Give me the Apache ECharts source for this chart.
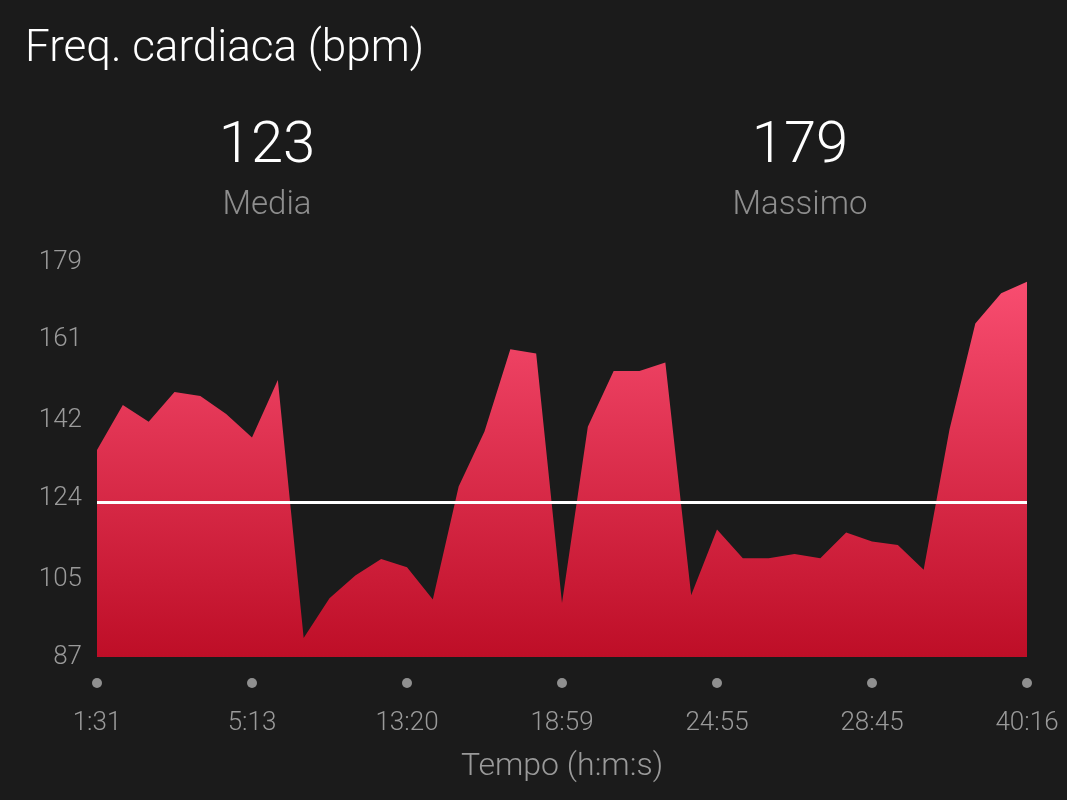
<!DOCTYPE html>
<html>
<head>
<meta charset="utf-8">
<script src="https://cdn.jsdelivr.net/npm/echarts@6/dist/echarts.min.js"></script>
<style>
  html, body { margin: 0; padding: 0; background: #1b1b1b; }
  #chart { width: 1067px; height: 800px; }
</style>
</head>
<body>
<div id="chart"></div>
<script>
// ---- data ----
const chartTitle = 'Freq. cardiaca (bpm)';
const avgHR = 123;
const maxHR = 179;
const avgLabel = 'Media';
const maxLabel = 'Massimo';
const xAxisName = 'Tempo (h:m:s)';
// heart-rate samples (bpm), evenly spaced along the x axis
const hrValues = [
  135.2, 145.7, 141.8, 148.7, 147.8, 143.6, 138.1, 151.5, 91.4, 100.7,
  106.0, 109.8, 107.9, 100.4, 126.7, 139.5, 158.7, 157.7, 99.6, 140.6,
  153.6, 153.6, 155.6, 101.4, 116.7, 110.0, 110.0, 111.0, 110.0, 116.0,
  113.9, 113.1, 107.3, 140.0, 164.7, 171.7, 174.4
];
// time labels shown every 6 samples
const xTickLabels = ['1:31', '5:13', '13:20', '18:59', '24:55', '28:45', '40:16'];
const xTickStep = 6;
// y axis tick labels
const yTicks = [87, 105, 124, 142, 161, 179];

const categories = hrValues.map((_, i) => i);

const chart = echarts.init(document.getElementById('chart'), null, { renderer: 'canvas' });
const FONT = 'Roboto, "Noto Sans", sans-serif';

const option = {
  backgroundColor: '#1b1b1b',
  animation: false,
  textStyle: { fontFamily: FONT },
  graphic: [
    { type: 'text', x: 25, y: 50, style: { text: chartTitle, fill: '#ffffff', font: '300 44px ' + FONT, verticalAlign: 'middle' } },
    { type: 'text', x: 267, y: 147, style: { text: String(avgHR), fill: '#ffffff', font: '300 58px ' + FONT, align: 'center', verticalAlign: 'middle' } },
    { type: 'text', x: 267, y: 206, style: { text: avgLabel, fill: '#8e8e8e', font: '300 33px ' + FONT, align: 'center', verticalAlign: 'middle' } },
    { type: 'text', x: 800, y: 147, style: { text: String(maxHR), fill: '#ffffff', font: '300 58px ' + FONT, align: 'center', verticalAlign: 'middle' } },
    { type: 'text', x: 800, y: 206, style: { text: maxLabel, fill: '#8e8e8e', font: '300 33px ' + FONT, align: 'center', verticalAlign: 'middle' } }
  ],
  grid: { left: 97, right: 40, top: 262, bottom: 143, containLabel: false },
  xAxis: {
    type: 'category',
    data: categories,
    boundaryGap: false,
    name: xAxisName,
    nameLocation: 'middle',
    nameGap: 94,
    nameTextStyle: { color: '#9a9a9a', fontSize: 32, fontWeight: 300, fontFamily: FONT },
    axisLine: { show: false },
    axisTick: { show: false },
    splitLine: { show: false },
    axisLabel: {
      interval: (idx) => idx % xTickStep === 0,
      margin: 21,
      formatter: (val, idx) => '{d| }\n{t|' + xTickLabels[idx / xTickStep] + '}',
      rich: {
        d: { width: 10, height: 10, borderRadius: 5, backgroundColor: '#909090', lineHeight: 10, fontSize: 1 },
        t: { color: '#9a9a9a', fontSize: 26, fontWeight: 300, fontFamily: FONT, lineHeight: 70 }
      }
    }
  },
  yAxis: {
    type: 'value',
    min: 87,
    max: 179,
    axisLine: { show: false },
    axisTick: { show: false },
    splitLine: { show: false },
    axisLabel: {
      customValues: yTicks,
      margin: 15,
      color: '#9a9a9a',
      fontSize: 26,
      fontWeight: 300,
      fontFamily: FONT,
      padding: [4, 0, 0, 0],
      formatter: (v) => String(Math.round(v))
    }
  },
  series: [{
    type: 'line',
    data: hrValues,
    showSymbol: false,
    symbol: 'none',
    lineStyle: { width: 0 },
    areaStyle: {
      origin: 'start',
      opacity: 1,
      color: new echarts.graphic.LinearGradient(0, 0, 0, 1, [
        { offset: 0, color: '#f84d70' },
        { offset: 1, color: '#be0e27' }
      ])
    },
    markLine: {
      silent: true,
      symbol: 'none',
      label: { show: false },
      lineStyle: { color: '#ffffff', width: 3, type: 'solid' },
      data: [{ yAxis: avgHR }]
    }
  }]
};
chart.setOption(option);
</script>
</body>
</html>
